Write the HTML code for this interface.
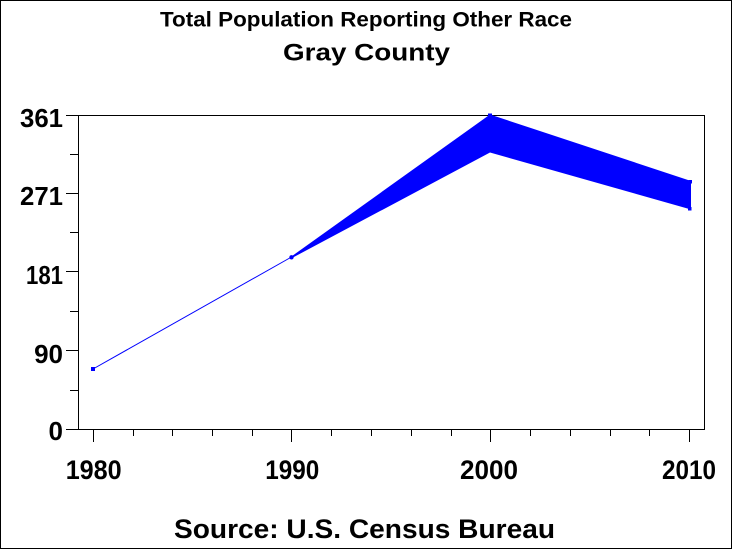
<!DOCTYPE html>
<html>
<head>
<meta charset="utf-8">
<style>
html,body{margin:0;padding:0;background:#fff;}
svg{display:block;}
text{font-family:"Liberation Sans",Arial,sans-serif;font-weight:bold;fill:#000;}
</style>
</head>
<body>
<svg width="733" height="550" viewBox="0 0 733 550" xmlns="http://www.w3.org/2000/svg">
  <rect x="0" y="0" width="733" height="550" fill="#fff"/>
  <!-- outer border -->
  <rect x="0.5" y="0.5" width="731" height="548" fill="none" stroke="#000" stroke-width="1"/>

  <!-- titles -->
  <text x="366" y="26.5" font-size="21" text-anchor="middle" textLength="412" lengthAdjust="spacingAndGlyphs">Total Population Reporting Other Race</text>
  <text x="366.5" y="60.5" font-size="24" text-anchor="middle" textLength="167" lengthAdjust="spacingAndGlyphs">Gray County</text>

  <!-- plot frame -->
  <rect x="78.5" y="115.5" width="626" height="314" fill="none" stroke="#000" stroke-width="1"/>

  <!-- y ticks -->
  <g stroke="#000" stroke-width="1">
    <line x1="66" y1="115.5" x2="78.5" y2="115.5"/>
    <line x1="66" y1="193.5" x2="78.5" y2="193.5"/>
    <line x1="66" y1="271.5" x2="78.5" y2="271.5"/>
    <line x1="66" y1="350.5" x2="78.5" y2="350.5"/>
    <line x1="66" y1="429.5" x2="78.5" y2="429.5"/>
    <line x1="70" y1="154.5" x2="78.5" y2="154.5"/>
    <line x1="70" y1="232.5" x2="78.5" y2="232.5"/>
    <line x1="70" y1="311.5" x2="78.5" y2="311.5"/>
    <line x1="70" y1="390.5" x2="78.5" y2="390.5"/>
  </g>
  <!-- y labels -->
  <text x="63" y="127" font-size="26" text-anchor="end" textLength="43" lengthAdjust="spacingAndGlyphs">361</text>
  <text x="63" y="205" font-size="26" text-anchor="end" textLength="43" lengthAdjust="spacingAndGlyphs">271</text>
  <text x="63" y="284" font-size="26" text-anchor="end" textLength="37" lengthAdjust="spacingAndGlyphs">181</text>
  <text x="63" y="363" font-size="26" text-anchor="end">90</text>
  <text x="63" y="440" font-size="26" text-anchor="end">0</text>

  <!-- x ticks -->
  <g stroke="#000" stroke-width="1">
    <line x1="93.5" y1="429.5" x2="93.5" y2="442"/>
    <line x1="291.5" y1="429.5" x2="291.5" y2="442"/>
    <line x1="490.5" y1="429.5" x2="490.5" y2="442"/>
    <line x1="689.5" y1="429.5" x2="689.5" y2="442"/>
    <line x1="133.5" y1="429.5" x2="133.5" y2="436"/>
    <line x1="172.5" y1="429.5" x2="172.5" y2="436"/>
    <line x1="212.5" y1="429.5" x2="212.5" y2="436"/>
    <line x1="252.5" y1="429.5" x2="252.5" y2="436"/>
    <line x1="331.5" y1="429.5" x2="331.5" y2="436"/>
    <line x1="371.5" y1="429.5" x2="371.5" y2="436"/>
    <line x1="411.5" y1="429.5" x2="411.5" y2="436"/>
    <line x1="451.5" y1="429.5" x2="451.5" y2="436"/>
    <line x1="530.5" y1="429.5" x2="530.5" y2="436"/>
    <line x1="570.5" y1="429.5" x2="570.5" y2="436"/>
    <line x1="610.5" y1="429.5" x2="610.5" y2="436"/>
    <line x1="649.5" y1="429.5" x2="649.5" y2="436"/>
  </g>
  <!-- x labels -->
  <text x="93.7" y="479" font-size="27" text-anchor="middle" textLength="56" lengthAdjust="spacingAndGlyphs">1980</text>
  <text x="292.3" y="479" font-size="27" text-anchor="middle" textLength="54" lengthAdjust="spacingAndGlyphs">1990</text>
  <text x="489" y="479" font-size="27" text-anchor="middle" textLength="58" lengthAdjust="spacingAndGlyphs">2000</text>
  <text x="689" y="479" font-size="27" text-anchor="middle" textLength="54" lengthAdjust="spacingAndGlyphs">2010</text>

  <!-- footnote -->
  <text x="364.5" y="538" font-size="27" text-anchor="middle" textLength="381" lengthAdjust="spacingAndGlyphs">Source: U.S. Census Bureau</text>

  <!-- series -->
  <line x1="93" y1="369" x2="291.5" y2="257" stroke="#0000ff" stroke-width="1"/>
  <rect x="91" y="367" width="4" height="4" fill="#0000ff"/>
  <polygon points="290,257.5 490,114.5 691,181 691,209.5 490,152.5 292,258" fill="#0000ff"/>
  <circle cx="291.5" cy="257.3" r="2.2" fill="#0000ff"/>
  <rect x="488" y="113.5" width="4" height="3" fill="#0000ff"/>
  <rect x="688.5" y="180" width="3.5" height="3.5" fill="#0000ff"/>
  <rect x="688" y="207" width="3.5" height="3.5" fill="#0000ff"/>
</svg>
</body>
</html>
